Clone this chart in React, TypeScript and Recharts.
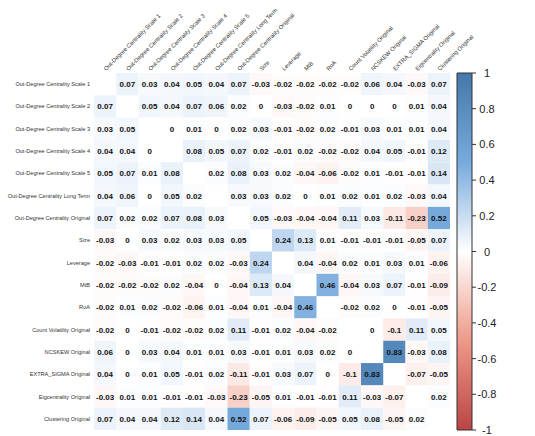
import React from 'react';
import { ScatterChart, Scatter, XAxis, YAxis, ReferenceArea } from 'recharts';

const labels = [
  'Out-Degree Centrality Scale 1',
  'Out-Degree Centrality Scale 2',
  'Out-Degree Centrality Scale 3',
  'Out-Degree Centrality Scale 4',
  'Out-Degree Centrality Scale 5',
  'Out-Degree Centrality Long Term',
  'Out-Degree Centrality Original',
  'Size',
  'Leverage',
  'MtB',
  'RoA',
  'Count Volatility Original',
  'NCSKEW Original',
  'EXTRA_SIGMA Original',
  'Eigcentrality Original',
  'Clustering Original',
];

// one row of the correlation matrix per variable, null on the diagonal
const scale1 = [null, 0.07, 0.03, 0.04, 0.05, 0.04, 0.07, -0.03, -0.02, -0.02, -0.02, -0.02, 0.06, 0.04, -0.03, 0.07];
const scale2 = [0.07, null, 0.05, 0.04, 0.07, 0.06, 0.02, 0, -0.03, -0.02, 0.01, 0, 0, 0, 0.01, 0.04];
const scale3 = [0.03, 0.05, null, 0, 0.01, 0, 0.02, 0.03, -0.01, -0.02, 0.02, -0.01, 0.03, 0.01, 0.01, 0.04];
const scale4 = [0.04, 0.04, 0, null, 0.08, 0.05, 0.07, 0.02, -0.01, 0.02, -0.02, -0.02, 0.04, 0.05, -0.01, 0.12];
const scale5 = [0.05, 0.07, 0.01, 0.08, null, 0.02, 0.08, 0.03, 0.02, -0.04, -0.06, -0.02, 0.01, -0.01, -0.01, 0.14];
const longTerm = [0.04, 0.06, 0, 0.05, 0.02, null, 0.03, 0.03, 0.02, 0, 0.01, 0.02, 0.01, 0.02, -0.03, 0.04];
const original = [0.07, 0.02, 0.02, 0.07, 0.08, 0.03, null, 0.05, -0.03, -0.04, -0.04, 0.11, 0.03, -0.11, -0.23, 0.52];
const size = [-0.03, 0, 0.03, 0.02, 0.03, 0.03, 0.05, null, 0.24, 0.13, 0.01, -0.01, -0.01, -0.01, -0.05, 0.07];
const leverage = [-0.02, -0.03, -0.01, -0.01, 0.02, 0.02, -0.03, 0.24, null, 0.04, -0.04, 0.02, 0.01, 0.03, 0.01, -0.06];
const mtb = [-0.02, -0.02, -0.02, 0.02, -0.04, 0, -0.04, 0.13, 0.04, null, 0.46, -0.04, 0.03, 0.07, -0.01, -0.09];
const roa = [-0.02, 0.01, 0.02, -0.02, -0.06, 0.01, -0.04, 0.01, -0.04, 0.46, null, -0.02, 0.02, 0, -0.01, -0.05];
const countVol = [-0.02, 0, -0.01, -0.02, -0.02, 0.02, 0.11, -0.01, 0.02, -0.04, -0.02, null, 0, -0.1, 0.11, 0.05];
const ncskew = [0.06, 0, 0.03, 0.04, 0.01, 0.01, 0.03, -0.01, 0.01, 0.03, 0.02, 0, null, 0.83, -0.03, 0.08];
const extraSigma = [0.04, 0, 0.01, 0.05, -0.01, 0.02, -0.11, -0.01, 0.03, 0.07, 0, -0.1, 0.83, null, -0.07, -0.05];
const eigcent = [-0.03, 0.01, 0.01, -0.01, -0.01, -0.03, -0.23, -0.05, 0.01, -0.01, -0.01, 0.11, -0.03, -0.07, null, 0.02];
const clustering = [0.07, 0.04, 0.04, 0.12, 0.14, 0.04, 0.52, 0.07, -0.06, -0.09, -0.05, 0.05, 0.08, -0.05, 0.02, null];

const matrix = [scale1, scale2, scale3, scale4, scale5, longTerm, original, size, leverage, mtb, roa, countVol, ncskew, extraSigma, eigcent, clustering];

const legendTicks = [1, 0.8, 0.6, 0.4, 0.2, 0, -0.2, -0.4, -0.6, -0.8, -1];

const W = 535;
const H = 436;
const LEFT = 94;
const RIGHT = 85;
const TOP = 73;
const BOTTOM = 6;
const N = labels.length;
const CELL_W = (W - LEFT - RIGHT) / N;
const CELL_H = (H - TOP - BOTTOM) / N;
const FONT = 'Arial, "Liberation Sans", sans-serif';

// corrplot-style palette from -1 to 1
const palette = ['#BB4444', '#EE9988', '#FFFFFF', '#77AADD', '#4477AA'];

function hex(c: string) {
  return [1, 3, 5].map((i) => parseInt(c.slice(i, i + 2), 16));
}

function colorFor(v: number) {
  const t = ((v + 1) / 2) * (palette.length - 1);
  const i = Math.min(Math.floor(t), palette.length - 2);
  const f = t - i;
  const a = hex(palette[i]);
  const b = hex(palette[i + 1]);
  const rgb = a.map((x, k) => Math.round(x + (b[k] - x) * f));
  return `rgb(${rgb.join(',')})`;
}

const cells = matrix.flatMap((row, i) =>
  row.map((v, j) => ({ x: j + 0.5, y: i + 0.5, v })).filter((d) => d.v !== null)
);

// end points of the colour scale, so the legend axis has something to scale
const legendRange = [
  { x: N, y: -1 },
  { x: N, y: 1 },
];

const centers = labels.map((_, i) => i + 0.5);

const renderCell = (props: any) => {
  const { cx, cy, payload } = props;
  const v = payload.v as number;
  return (
    <g>
      <rect x={cx - CELL_W / 2} y={cy - CELL_H / 2} width={CELL_W} height={CELL_H} fill={colorFor(v)} />
      <text x={cx} y={cy} dy={3} textAnchor="middle" fontSize={8} fontWeight={700} fontFamily={FONT} fill="#111">
        {String(v)}
      </text>
    </g>
  );
};

const RowTick = (props: any) => {
  const { x, y, payload } = props;
  return (
    <text x={x - 4} y={y} dy={2} textAnchor="end" fontSize={5.6} fontFamily={FONT} fill="#333">
      {labels[Math.floor(payload.value)]}
    </text>
  );
};

const ColTick = (props: any) => {
  const { x, y, payload } = props;
  return (
    <text
      transform={`translate(${x + 1},${y - 2}) rotate(-45)`}
      textAnchor="start"
      fontSize={5.8}
      fontFamily={FONT}
      fill="#333"
    >
      {labels[Math.floor(payload.value)]}
    </text>
  );
};

const LegendTick = (props: any) => {
  const { y, payload } = props;
  const bx = W - RIGHT;
  return (
    <g>
      <line x1={bx + 22} x2={bx + 26} y1={y} y2={y} stroke="#333" />
      <text x={bx + 37} y={y} dy={4} textAnchor="middle" fontSize={11} fontFamily={FONT} fill="#222">
        {String(payload.value)}
      </text>
    </g>
  );
};

export default function App() {
  return (
    <div style={{ position: 'absolute', left: 0, top: 0, background: '#fff' }}>
      <ScatterChart width={W} height={H} margin={{ top: 0, right: 0, left: 0, bottom: BOTTOM }}>
        <defs>
          <linearGradient id="corrScale" x1="0" y1="0" x2="0" y2="1">
            <stop offset="0%" stopColor={palette[4]} />
            <stop offset="25%" stopColor={palette[3]} />
            <stop offset="50%" stopColor={palette[2]} />
            <stop offset="75%" stopColor={palette[1]} />
            <stop offset="100%" stopColor={palette[0]} />
          </linearGradient>
        </defs>
        <XAxis
          type="number"
          dataKey="x"
          domain={[0, N]}
          orientation="top"
          height={TOP}
          ticks={centers}
          interval={0}
          tick={<ColTick />}
          tickSize={0}
          tickMargin={0}
          axisLine={false}
          tickLine={false}
        />
        <YAxis
          type="number"
          dataKey="y"
          domain={[0, N]}
          reversed
          width={LEFT}
          ticks={centers}
          interval={0}
          tick={<RowTick />}
          tickSize={0}
          tickMargin={0}
          axisLine={false}
          tickLine={false}
        />
        <YAxis
          yAxisId="legend"
          type="number"
          dataKey="y"
          orientation="right"
          domain={[-1, 1]}
          width={RIGHT}
          ticks={legendTicks}
          interval={0}
          tick={<LegendTick />}
          tickSize={0}
          tickMargin={0}
          axisLine={false}
          tickLine={false}
        />
        <Scatter data={cells} shape={renderCell} isAnimationActive={false} />
        <Scatter yAxisId="legend" data={legendRange} shape={() => <g />} isAnimationActive={false} />
        <ReferenceArea
          yAxisId="legend"
          x1={N + 7 / CELL_W}
          x2={N + 22 / CELL_W}
          y1={-1}
          y2={1}
          ifOverflow="visible"
          fill="url(#corrScale)"
          fillOpacity={1}
          stroke="#333"
          strokeWidth={1}
        />
      </ScatterChart>
    </div>
  );
}
